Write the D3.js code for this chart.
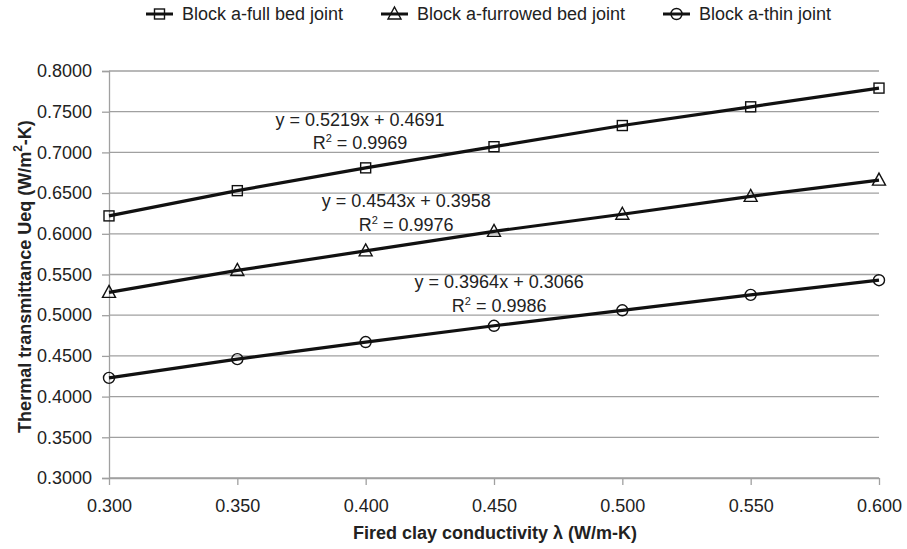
<!DOCTYPE html>
<html>
<head>
<meta charset="utf-8">
<script src="https://cdn.jsdelivr.net/npm/d3@7"></script>
<style>
  html, body { margin: 0; padding: 0; background: #fff; }
  svg { display: block; font-family: "Liberation Sans", Arial, sans-serif; }
</style>
</head>
<body>
<svg id="chart" width="907" height="549"></svg>
<script>
// ---- data ----
const conductivity = [0.300, 0.350, 0.400, 0.450, 0.500, 0.550, 0.600];
const fullBedJoint = [0.622, 0.653, 0.681, 0.707, 0.733, 0.756, 0.779];
const furrowedBedJoint = [0.528, 0.555, 0.579, 0.603, 0.624, 0.646, 0.666];
const thinJoint = [0.423, 0.446, 0.467, 0.487, 0.506, 0.525, 0.543];
const seriesNames = ["Block a-full bed joint", "Block a-furrowed bed joint", "Block a-thin joint"];
const seriesMarkers = ["square", "triangle", "circle"];
const equations = ["y = 0.5219x + 0.4691", "y = 0.4543x + 0.3958", "y = 0.3964x + 0.3066"];
const rSquared = ["0.9969", "0.9976", "0.9986"];
const xTicks = [0.300, 0.350, 0.400, 0.450, 0.500, 0.550, 0.600];
const yTicks = [0.30, 0.35, 0.40, 0.45, 0.50, 0.55, 0.60, 0.65, 0.70, 0.75, 0.80];

// ---- layout ----
const svg = d3.select("#chart");
const plot = { left: 109, right: 879, top: 71, bottom: 478 };
const x = d3.scaleLinear().domain([0.3, 0.6]).range([plot.left, plot.right]);
const y = d3.scaleLinear().domain([0.3, 0.8]).range([plot.bottom, plot.top]);
const gridColor = "#a0a0a0";
const fontSize = 18;

// gridlines
svg.append("g")
  .selectAll("line")
  .data(yTicks)
  .join("line")
  .attr("x1", plot.left).attr("x2", plot.right)
  .attr("y1", d => y(d)).attr("y2", d => y(d))
  .attr("stroke", gridColor).attr("stroke-width", 1.3);

// y axis
const yAxis = svg.append("g")
  .attr("transform", `translate(${plot.left},0)`)
  .call(d3.axisLeft(y).tickValues(yTicks).tickFormat(d3.format(".4f")).tickSize(7).tickPadding(10));
yAxis.select(".domain").attr("stroke", gridColor).attr("stroke-width", 1.3);
yAxis.selectAll(".tick line").attr("stroke", gridColor).attr("stroke-width", 1.3);
yAxis.selectAll("text").attr("font-size", fontSize).attr("fill", "#222").attr("font-family", "Liberation Sans, Arial, sans-serif");

// x axis
const xAxis = svg.append("g")
  .attr("transform", `translate(0,${plot.bottom})`)
  .call(d3.axisBottom(x).tickValues(xTicks).tickFormat(d3.format(".3f")).tickSize(7).tickPadding(14).tickSizeOuter(0));
xAxis.select(".domain").attr("stroke", gridColor).attr("stroke-width", 1.3);
xAxis.selectAll(".tick line").attr("stroke", gridColor).attr("stroke-width", 1.3);
xAxis.selectAll("text").attr("font-size", fontSize).attr("fill", "#222").attr("font-family", "Liberation Sans, Arial, sans-serif");

// axis titles
svg.append("text")
  .attr("x", (plot.left + plot.right) / 2 + 1).attr("y", 533)
  .attr("text-anchor", "middle").attr("dominant-baseline", "central")
  .attr("font-size", fontSize).attr("font-weight", "bold").attr("fill", "#222")
  .text("Fired clay conductivity λ (W/m-K)");

const yTitle = svg.append("text")
  .attr("transform", `translate(25,${(plot.top + plot.bottom) / 2 + 2}) rotate(-90)`)
  .attr("text-anchor", "middle").attr("dominant-baseline", "central")
  .attr("font-size", fontSize).attr("font-weight", "bold").attr("fill", "#222");
yTitle.append("tspan").text("Thermal transmittance Ueq (W/m");
yTitle.append("tspan").attr("font-size", 12).attr("dy", -7).text("2");
yTitle.append("tspan").attr("dy", 7).text("-K)");

// markers
function drawMarker(g, type, cx, cy) {
  const s = 1.4;
  if (type === "square") {
    g.append("rect").attr("x", cx - 5).attr("y", cy - 5).attr("width", 10).attr("height", 10)
      .attr("fill", "none").attr("stroke", "#111").attr("stroke-width", s);
  } else if (type === "triangle") {
    g.append("path").attr("d", `M${cx},${cy - 7}L${cx + 6.5},${cy + 5}L${cx - 6.5},${cy + 5}Z`)
      .attr("fill", "none").attr("stroke", "#111").attr("stroke-width", s);
  } else {
    g.append("circle").attr("cx", cx).attr("cy", cy).attr("r", 5.5)
      .attr("fill", "none").attr("stroke", "#111").attr("stroke-width", s);
  }
}

const allSeries = [fullBedJoint, furrowedBedJoint, thinJoint];
const line = d3.line().x((d, i) => x(conductivity[i])).y(d => y(d));

allSeries.forEach((vals, si) => {
  const g = svg.append("g");
  g.append("path").datum(vals).attr("d", line)
    .attr("fill", "none").attr("stroke", "#111").attr("stroke-width", 3.2);
  vals.forEach((v, i) => drawMarker(g, seriesMarkers[si], x(conductivity[i]), y(v)));
});

// trendline equation labels (anchors in data coordinates)
const labelAnchors = [
  { cx: 0.3978, cy1: 0.7398, cy2: 0.7112 },
  { cx: 0.4158, cy1: 0.6406, cy2: 0.6108 },
  { cx: 0.4520, cy1: 0.5404, cy2: 0.5112 }
];
labelAnchors.forEach((a, i) => {
  svg.append("text")
    .attr("x", x(a.cx)).attr("y", y(a.cy1))
    .attr("text-anchor", "middle").attr("dominant-baseline", "central")
    .attr("font-size", fontSize).attr("fill", "#222")
    .text(equations[i]);
  const t = svg.append("text")
    .attr("x", x(a.cx)).attr("y", y(a.cy2))
    .attr("text-anchor", "middle").attr("dominant-baseline", "central")
    .attr("font-size", fontSize).attr("fill", "#222");
  t.append("tspan").text("R");
  t.append("tspan").attr("font-size", 11).attr("dy", -5).text("2");
  t.append("tspan").attr("dy", 5).text(" = " + rSquared[i]);
});

// legend
const legendX = [146, 381, 663];
seriesNames.forEach((name, i) => {
  const g = svg.append("g");
  const lx = legendX[i];
  g.append("line").attr("x1", lx).attr("x2", lx + 27).attr("y1", 14).attr("y2", 14)
    .attr("stroke", "#111").attr("stroke-width", 3);
  drawMarker(g, seriesMarkers[i], lx + 13.5, 14);
  g.append("text").attr("x", lx + 36).attr("y", 14)
    .attr("dominant-baseline", "central")
    .attr("font-size", fontSize).attr("fill", "#222")
    .text(name);
});
</script>
</body>
</html>
